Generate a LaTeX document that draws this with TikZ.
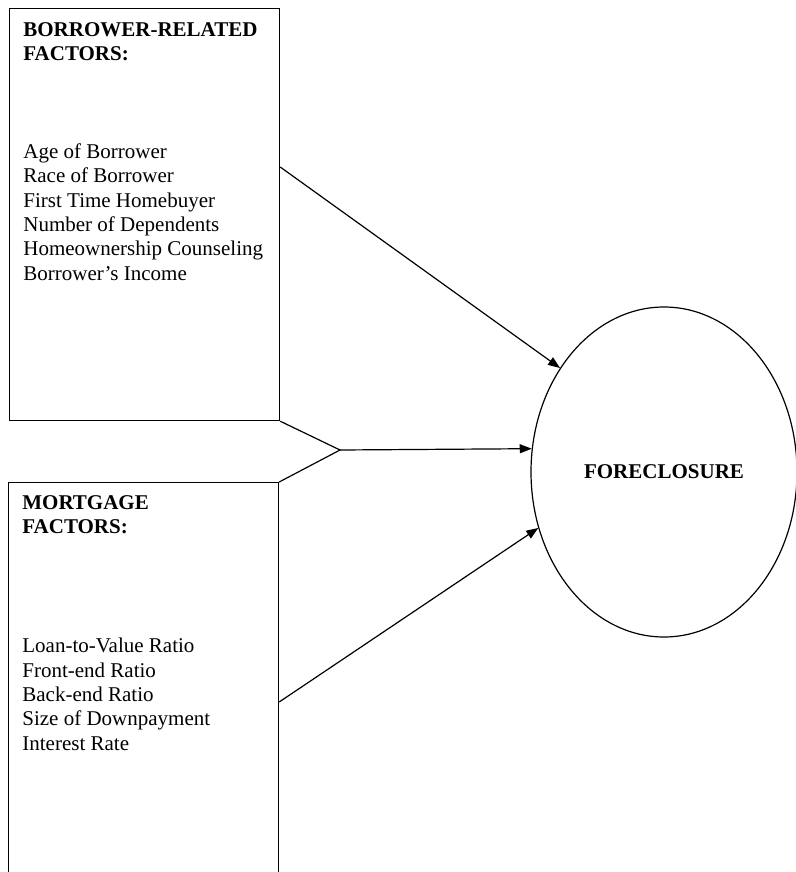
\documentclass[tikz,border=0pt]{standalone}
\usepackage{fontspec}
\setmainfont{Liberation Serif}
\usetikzlibrary{shapes.geometric,arrows.meta,positioning}

\begin{document}
\begin{tikzpicture}[x = 0.5pt, y = -0.5pt,
  factorbox/.style = {draw, line width = 0.6pt, shape = rectangle, minimum width = 135pt, anchor = north west, inner sep = 0pt},
  factortext/.style = {align = left, anchor = north west, inner sep = 0pt, font = \fontsize{10.5}{12.2}\selectfont},
  link/.style = {line width = 0.6pt},
  arrow/.style = {link, -{Triangle[length = 6pt, width = 4.5pt]}}]
\useasboundingbox (0,0) rectangle (796,872);
\clip (0,0) rectangle (796,872);
\node[factorbox, minimum height = 206pt] (borrower) at (9,8) {};
\node[factorbox, minimum height = 215pt] (mortgage) at (8,482) {};
\node[factortext] (borrowertext) at (23,22) {\textbf{BORROWER-RELATED}\\\textbf{FACTORS:}\\[36.6pt]
Age of Borrower\\Race of Borrower\\First Time Homebuyer\\Number of Dependents\\Homeownership Counseling\\Borrower's Income};
\node[factortext] (mortgagetext) at (22,495) {\textbf{MORTGAGE}\\\textbf{FACTORS:}\\[47.3pt]
Loan-to-Value Ratio\\Front-end Ratio\\Back-end Ratio\\Size of Downpayment\\Interest Rate};
\node[draw, shape = ellipse, line width = 0.6pt, minimum width = 133pt, minimum height = 165pt, inner sep = 0pt, font = \bfseries\fontsize{10.5}{12.2}\selectfont] (foreclosure) at (664,472) {FORECLOSURE};
\coordinate (merge) at (340,450);
\draw[link] (borrower.south east) -- (merge) -- (mortgage.north east);
\draw[arrow] (merge) -- (foreclosure.170);
\draw[arrow] ([shift = {(0,159)}]borrower.north east) -- (foreclosure.135);
\draw[arrow] ([shift = {(0,220)}]mortgage.north east) -- (foreclosure.204);
\end{tikzpicture}
\end{document}
